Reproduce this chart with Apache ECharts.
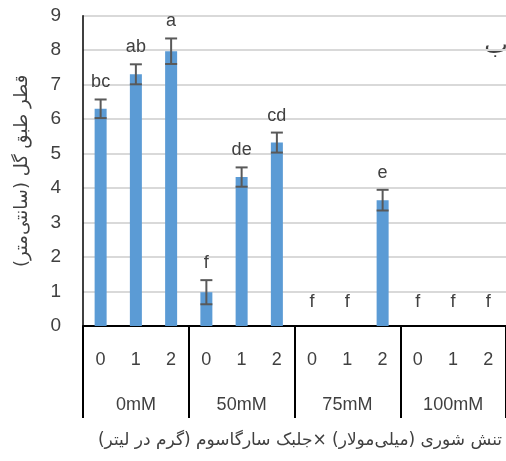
<!DOCTYPE html>
<html>
<head>
<meta charset="utf-8">
<script src="https://cdn.jsdelivr.net/npm/echarts@6/dist/echarts.min.js"></script>
<style>
  html, body { margin: 0; padding: 0; background: #fff; }
  #main { width: 506px; height: 461px; }
</style>
</head>
<body>
<div id="main"></div>
<script>
var doses = ['0', '1', '2', '0', '1', '2', '0', '1', '2', '0', '1', '2'];
var salinity = ['0mM', '50mM', '75mM', '100mM'];
var diameter = [6.3, 7.3, 7.97, 0.98, 4.32, 5.32, 0, 0, 3.65, 0, 0, 0];
var errors = [0.27, 0.29, 0.37, 0.35, 0.28, 0.29, 0, 0, 0.3, 0, 0, 0];
var letters = ['bc', 'ab', 'a', 'f', 'de', 'cd', 'f', 'f', 'e', 'f', 'f', 'f'];

var numFont = 'Liberation Sans';
var faFont = 'DejaVu Sans';

var chartDom = document.getElementById('main');
var myChart = echarts.init(chartDom);

var errData = diameter.map(function (v, i) {
    return [i, v, errors[i]];
});

var option = {
    animation: false,
    grid: {
        left: 83,
        top: 15.7,
        width: 428,
        bottom: 135
    },
    xAxis: [
        {
            type: 'category',
            data: doses,
            axisLine: { show: false },
            axisTick: { show: false },
            axisLabel: {
                margin: 25,
                fontSize: 18,
                fontFamily: numFont,
                color: '#404040'
            }
        },
        {
            type: 'category',
            data: salinity,
            position: 'bottom',
            axisLine: { show: true, lineStyle: { color: '#000', width: 2 } },
            axisTick: { show: true, length: 92, lineStyle: { color: '#000', width: 2 } },
            axisLabel: {
                margin: 70,
                fontSize: 18,
                fontFamily: numFont,
                color: '#404040'
            }
        }
    ],
    yAxis: {
        type: 'value',
        min: 0,
        max: 9,
        interval: 1,
        axisLine: { show: true, lineStyle: { color: '#000', width: 1.5 } },
        axisTick: { show: false },
        splitLine: { lineStyle: { color: '#d9d9d9', width: 2 } },
        axisLabel: {
            margin: 22,
            fontSize: 19,
            fontFamily: numFont,
            color: '#404040'
        },
        name: 'قطر طبق گل (سانتی‌متر)',
        nameLocation: 'middle',
        nameGap: 52,
        nameTextStyle: {
            fontSize: 18,
            fontFamily: faFont,
            color: '#404040'
        }
    },
    graphic: [
        {
            type: 'text',
            x: 300,
            y: 441,
            style: {
                text: 'تنش شوری (میلی‌مولار) ×جلبک سارگاسوم (گرم در لیتر)',
                fontSize: 17,
                fontFamily: faFont,
                fill: '#404040',
                align: 'center',
                verticalAlign: 'middle'
            }
        },
        {
            type: 'text',
            x: 496,
            y: 46,
            style: {
                text: 'ب',
                fontSize: 25,
                fontFamily: faFont,
                fill: '#404040',
                align: 'center',
                verticalAlign: 'middle'
            }
        }
    ],
    series: [
        {
            name: 'diameter',
            type: 'bar',
            data: diameter,
            barWidth: 12,
            itemStyle: { color: '#5b9bd5' }
        },
        {
            name: 'error',
            type: 'custom',
            data: errData,
            z: 5,
            renderItem: function (params, api) {
                var x = api.value(0);
                var v = api.value(1);
                var e = api.value(2);
                var hi = api.coord([x, v + e]);
                var lo = api.coord([x, v - e]);
                var cap = 6;
                var children = [];
                if (e > 0) {
                    var st = { stroke: '#595959', lineWidth: 2 };
                    children.push(
                        { type: 'line', shape: { x1: hi[0], y1: hi[1], x2: lo[0], y2: lo[1] }, style: st },
                        { type: 'line', shape: { x1: hi[0] - cap, y1: hi[1], x2: hi[0] + cap, y2: hi[1] }, style: st },
                        { type: 'line', shape: { x1: lo[0] - cap, y1: lo[1], x2: lo[0] + cap, y2: lo[1] }, style: st }
                    );
                }
                var gap = e > 0 ? 8 : 15;
                children.push({
                    type: 'text',
                    style: {
                        text: letters[params.dataIndex],
                        x: hi[0],
                        y: hi[1] - gap,
                        align: 'center',
                        verticalAlign: 'bottom',
                        fontSize: 18,
                        fontFamily: numFont,
                        fill: '#404040'
                    }
                });
                return { type: 'group', children: children };
            }
        }
    ]
};

option && myChart.setOption(option);
</script>
</body>
</html>
